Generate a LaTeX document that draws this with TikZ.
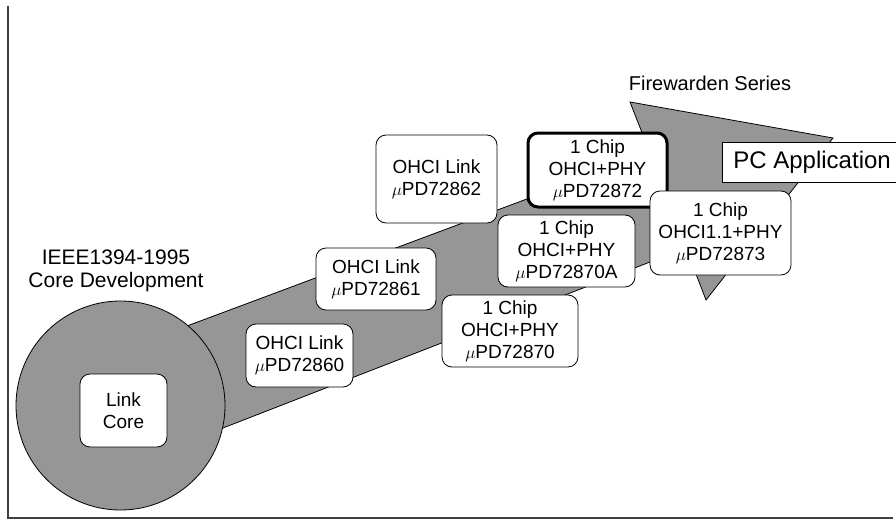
\documentclass[tikz,border=0pt]{standalone}
\usepackage{fontspec}
\setmainfont{Liberation Sans}
\usetikzlibrary{positioning}
\definecolor{arrowgray}{gray}{0.59}
\tikzset{
  chip/.style={draw, fill=white, rounded corners=10pt, align=center, inner sep=0pt,
    line width=0.8pt, font=\fontsize{19}{22}\selectfont},
  caption/.style={align=center, font=\fontsize{21}{23}\selectfont},
}
\begin{document}
\begin{tikzpicture}[x=1pt, y=-1pt]
  \useasboundingbox (0,0) rectangle (896,519);

  % Frame
  \draw[line width=1.2pt, black!75] (8,6) -- (8,518) -- (893,518);

  % Big arrow
  \draw[fill=arrowgray, line width=0.8pt] (120,351) -- (650,153) -- (630,102)
    -- (833,138) -- (706,300) -- (686,248) -- (120,468) -- cycle;

  % Core circle
  \draw[fill=arrowgray, line width=0.8pt] (120.5,405.5) circle (104.5pt);

  % Chips
  \node[chip, minimum width=87pt, minimum height=73pt] (core) at (123.5,410.5) {Link\\Core};
  \node[chip, minimum width=107pt, minimum height=63pt] (pd60) at (299.5,355.5) {OHCI Link\\$\mu$PD72860};
  \node[chip, minimum width=120pt, minimum height=62pt] (pd61) at (376,279) {OHCI Link\\$\mu$PD72861};
  \node[chip, minimum width=121pt, minimum height=88pt] (pd62) at (436.5,179) {OHCI Link\\$\mu$PD72862};
  \node[chip, minimum width=136pt, minimum height=72pt] (pd70) at (510,331) {1 Chip\\OHCI+PHY\\$\mu$PD72870};
  \node[chip, minimum width=137pt, minimum height=72pt] (pd70a) at (566.5,251) {1 Chip\\OHCI+PHY\\$\mu$PD72870A};
  \node[chip, line width=3pt, minimum width=139pt, minimum height=74pt] (pd72) at (597.5,170) {1 Chip\\OHCI+PHY\\$\mu$PD72872};
  \node[chip, minimum width=141pt, minimum height=84pt] (pd73) at (720.5,233) {1 Chip\\OHCI1.1+PHY\\$\mu$PD72873};

  % Application box
  \node[draw, fill=white, line width=0.8pt, anchor=west, inner xsep=11pt,
    minimum height=40pt, font=\fontsize{24}{26}\selectfont] (pc) at (722,162) {PC Application};

  % Captions
  \node[caption, font=\fontsize{20}{23}\selectfont] (fw) at (710,83) {Firewarden Series};
  \node[caption] (ieee) at (116,271) {IEEE1394-1995\\Core Development};
\end{tikzpicture}
\end{document}
